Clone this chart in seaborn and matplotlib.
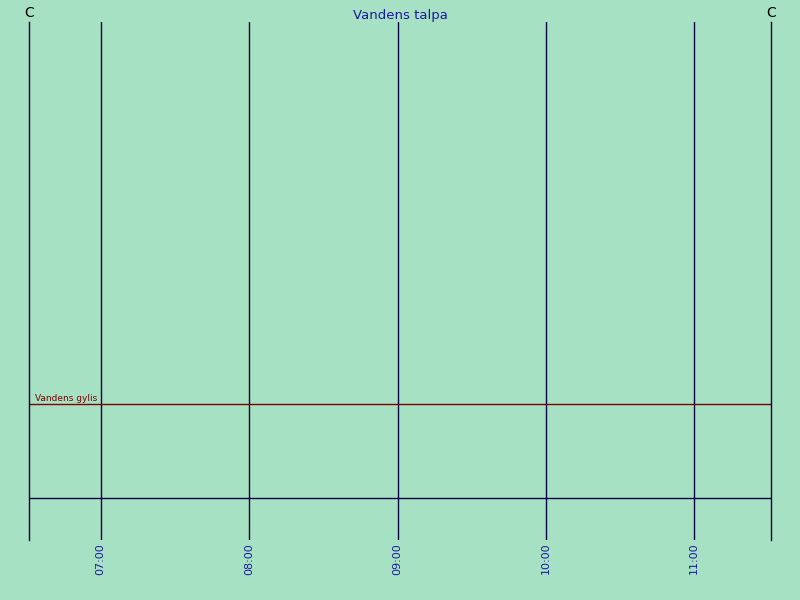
import pandas as pd
import matplotlib
matplotlib.use('Agg')
import matplotlib.pyplot as plt
import seaborn as sns

# data
time_range = ['2024-01-01 06:31', '2024-01-01 11:31']
hour_ticks = ['2024-01-01 07:00', '2024-01-01 08:00', '2024-01-01 09:00',
              '2024-01-01 10:00', '2024-01-01 11:00']
tick_labels = ['07:00', '08:00', '09:00', '10:00', '11:00']
depth_level = [1.0, 1.0]
base_level = [0.0, 0.0]
y_limits = [-0.447, 5.064]

bg = '#a6e1c4'
navy = '#000045'

sns.set_style('white')
fig = plt.figure(figsize=(8, 6), dpi=100, facecolor=bg)
ax = fig.add_axes([29 / 800, 60 / 600, 742 / 800, 518 / 600], facecolor=bg)

df = pd.DataFrame({'time': pd.to_datetime(time_range),
                   'depth': depth_level, 'base': base_level})

# water depth line and the zero baseline
sns.lineplot(data=df, x='time', y='depth', color='#800000', lw=1, ax=ax)
sns.lineplot(data=df, x='time', y='base', color=navy, lw=1, ax=ax)

ticks = pd.to_datetime(hour_ticks)
for t in ticks:
    ax.axvline(t, color=navy, lw=1, zorder=0)

ax.set_xlim(df['time'].iloc[0], df['time'].iloc[-1])
ax.set_ylim(*y_limits)
ax.set_xticks(ticks)
ax.set_xticklabels(tick_labels, rotation=90, color='#1a1aa0', fontsize=8)
ax.tick_params(axis='x', length=0, pad=2)
ax.set_yticks([])
ax.set_xlabel('')
ax.set_ylabel('')

for side in ['top', 'bottom']:
    ax.spines[side].set_visible(False)
for side in ['left', 'right']:
    ax.spines[side].set_color(navy)
    ax.spines[side].set_linewidth(1)

ax.annotate('Vandens gylis', xy=(0, depth_level[0]), xycoords=('axes fraction', 'data'),
            xytext=(4, 1), textcoords='offset points',
            fontsize=6.5, color='#800000', va='bottom', ha='left')

fig.text(400 / 800, 1 - 15 / 600, 'Vandens talpa', color='#1a1aa0', fontsize=9.5,
         ha='center', va='center')
fig.text(29 / 800, 1 - 13 / 600, 'C', color='black', fontsize=10, ha='center', va='center')
fig.text(771 / 800, 1 - 13 / 600, 'C', color='black', fontsize=10, ha='center', va='center')

fig.savefig('out.png', dpi=100, facecolor=bg)
